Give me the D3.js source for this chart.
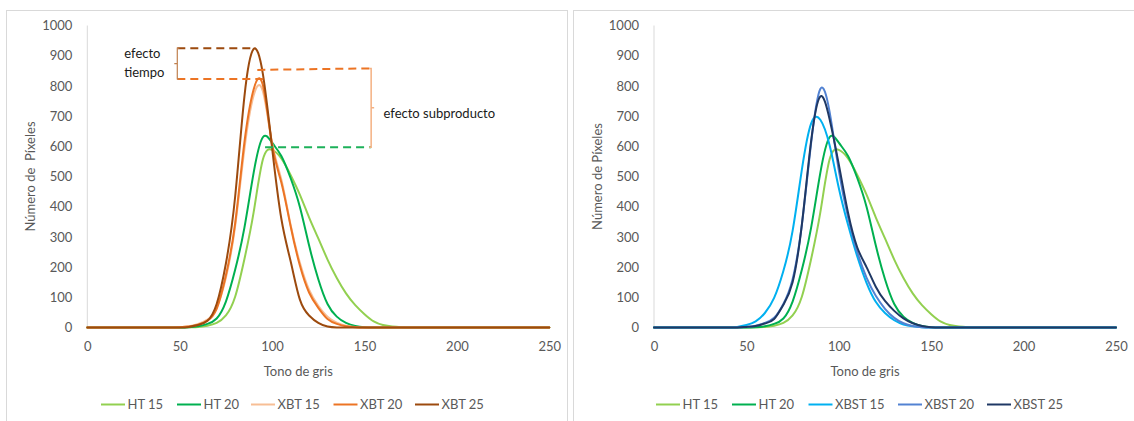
<!DOCTYPE html>
<html>
<head>
<meta charset="utf-8">
<script src="https://cdn.jsdelivr.net/npm/d3@7"></script>
<style>
  html, body { margin: 0; padding: 0; background: #fff; }
  svg { display: block; font-family: Lato, "Open Sans", sans-serif; }
</style>
</head>
<body>
<svg id="chart" width="1134" height="421"></svg>
<script>
// Gray-tone histograms (pixel counts per gray level)
const tones = d3.range(0, 251, 5);

const ht15   = [0,0,0,0,0,0,0,0,0,0, 0,1,2,6,15,40,102,226,381,556,588,560,505,440,365,295,225,164,113,74,44,20,8,3,1, 0,0,0,0,0,0,0,0,0,0,0,0,0,0,0,0];
const ht20   = [0,0,0,0,0,0,0,0,0,0, 0,1,4,12,30,86,191,330,512,630,612,568,495,400,272,160,78,36,15,5,1,0,0,0,0, 0,0,0,0,0,0,0,0,0,0,0,0,0,0,0,0];
const xbt15  = [0,0,0,0,0,0,0,0,0,0, 1,4,12,26,66,165,335,590,768,782,610,490,340,215,125,72,36,16,6,2,0,0,0,0,0, 0,0,0,0,0,0,0,0,0,0,0,0,0,0,0,0];
const xbt20  = [0,0,0,0,0,0,0,0,0,0, 1,3,9,23,62,173,345,612,788,803,605,480,336,206,116,65,28,12,4,1,0,0,0,0,0, 0,0,0,0,0,0,0,0,0,0,0,0,0,0,0,0];
const xbt25  = [0,0,0,0,0,0,0,0,0,0, 0,2,8,22,78,212,433,764,922,840,595,360,220,93,40,15,3,0,0,0,0,0,0,0,0, 0,0,0,0,0,0,0,0,0,0,0,0,0,0,0,0];
const xbst15 = [0,0,0,0,0,0,0,0,0,2, 8,20,48,98,187,320,522,675,688,604,462,340,235,148,85,48,24,10,4,1,0,0,0,0,0, 0,0,0,0,0,0,0,0,0,0,0,0,0,0,0,0];
const xbst20 = [0,0,0,0,0,0,0,0,0,0, 2,6,15,32,78,160,340,610,790,715,520,365,250,165,105,62,32,14,5,1,0,0,0,0,0, 0,0,0,0,0,0,0,0,0,0,0,0,0,0,0,0];
const xbst25 = [0,0,0,0,0,0,0,0,0,0, 2,5,13,28,75,150,340,616,765,690,540,380,265,200,135,88,55,30,14,5,1,0,0,0,0, 0,0,0,0,0,0,0,0,0,0,0,0,0,0,0,0];

const xTicks = [0, 50, 100, 150, 200, 250];
const yTicks = d3.range(0, 1001, 100);

const leftSeries = [
  { name: "HT 15",  values: ht15,  color: "#92D050" },
  { name: "HT 20",  values: ht20,  color: "#00B050" },
  { name: "XBT 15", values: xbt15, color: "#F7BE95" },
  { name: "XBT 20", values: xbt20, color: "#EC7424" },
  { name: "XBT 25", values: xbt25, color: "#9C4A0E" }
];
const rightSeries = [
  { name: "HT 15",   values: ht15,   color: "#92D050" },
  { name: "HT 20",   values: ht20,   color: "#00B050" },
  { name: "XBST 15", values: xbst15, color: "#00B0F0" },
  { name: "XBST 20", values: xbst20, color: "#5282D2" },
  { name: "XBST 25", values: xbst25, color: "#1F3864" }
];

// Annotation levels (tone, pixel count)
const timeBracket = { tone: 48.7, top: 925, bottom: 823, topEnd: 91, bottomEnd: 96.5 };
const subBracket  = { tone: 153.6, top: 858, topStart: 92, topStartVal: 853, bottom: 597, bottomStart: 96.2 };

const svg = d3.select("#chart");
const textGray = "#595959";

function panel(cfg) {
  const g = svg.append("g");
  // chart frame
  g.append("rect")
    .attr("x", cfg.frame[0]).attr("y", cfg.frame[1])
    .attr("width", cfg.frame[2]).attr("height", cfg.frame[3])
    .attr("fill", "none").attr("stroke", "#D9D9D9").attr("stroke-width", 1);

  const x = d3.scaleLinear().domain([0, 250]).range([cfg.x0, cfg.x0 + 462]);
  const y = d3.scaleLinear().domain([0, 1000]).range([327.5, 25.5]);

  // axes lines
  g.append("line").attr("x1", x(0)).attr("x2", x(0)).attr("y1", y(1000)).attr("y2", y(0))
    .attr("stroke", "#D9D9D9").attr("stroke-width", 1);
  g.append("line").attr("x1", x(0)).attr("x2", x(250)).attr("y1", y(0)).attr("y2", y(0))
    .attr("stroke", "#D9D9D9").attr("stroke-width", 1);

  const yAxis = d3.axisLeft(y).tickValues(yTicks).tickFormat(d3.format("d")).tickSize(0).tickPadding(15);
  const ya = g.append("g").attr("transform", `translate(${x(0)},0)`).call(yAxis);
  ya.select(".domain").remove();
  ya.selectAll("text").attr("fill", textGray).style("font-size", "13px").style("font-family", "Lato, sans-serif");

  const xAxis = d3.axisBottom(x).tickValues(xTicks).tickFormat(d3.format("d")).tickSize(0).tickPadding(14);
  const xa = g.append("g").attr("transform", `translate(0,${y(0)})`).call(xAxis);
  xa.select(".domain").remove();
  xa.selectAll("text").attr("fill", textGray).style("font-size", "13px").style("font-family", "Lato, sans-serif");

  // axis titles
  g.append("text").attr("x", x(0) + 211).attr("y", 376)
    .attr("text-anchor", "middle").attr("fill", textGray).style("font-size", "13px")
    .text("Tono de gris");
  g.append("text")
    .attr("transform", `translate(${x(0) - 52},${(y(0) + y(1000)) / 2}) rotate(-90)`)
    .attr("text-anchor", "middle").attr("fill", textGray).style("font-size", "13px")
    .attr("xml:space", "preserve")
    .text(cfg.yTitle);

  const line = d3.line()
    .x((d, i) => x(tones[i]))
    .y(d => y(d))
    .curve(d3.curveNatural);

  cfg.series.forEach(s => {
    g.append("path").attr("d", line(s.values))
      .attr("fill", "none").attr("stroke", s.color)
      .attr("stroke-width", 2).attr("stroke-linejoin", "round").attr("stroke-linecap", "round");
  });

  // legend
  const lg = g.append("g");
  cfg.series.forEach((s, i) => {
    const lx = cfg.legendX[i];
    lg.append("line").attr("x1", lx).attr("x2", lx + 24).attr("y1", 404.5).attr("y2", 404.5)
      .attr("stroke", s.color).attr("stroke-width", 2);
    lg.append("text").attr("x", lx + 26.5).attr("y", 409)
      .attr("fill", textGray).style("font-size", "13px").text(s.name);
  });

  return { g, x, y };
}

const L = panel({
  frame: [6.5, 10.5, 561, 420],
  x0: 87.3,
  series: leftSeries,
  yTitle: "Número de  Píxeles",
  legendX: [101, 177, 251, 333.5, 415]
});
panel({
  frame: [573.5, 10.5, 570, 420],
  x0: 654,
  series: rightSeries,
  yTitle: "Número de Píxeles",
  legendX: [656, 732, 808.5, 898, 987]
});

// "efecto tiempo" bracket
const ax = L.x, ay = L.y, ag = L.g;
ag.append("line").attr("x1", ax(timeBracket.tone)).attr("x2", ax(timeBracket.topEnd))
  .attr("y1", ay(timeBracket.top)).attr("y2", ay(timeBracket.top))
  .attr("stroke", "#9C4A0E").attr("stroke-width", 2).attr("stroke-dasharray", "8,5");
ag.append("line").attr("x1", ax(timeBracket.tone)).attr("x2", ax(timeBracket.bottomEnd))
  .attr("y1", ay(timeBracket.bottom)).attr("y2", ay(timeBracket.bottom))
  .attr("stroke", "#EC7424").attr("stroke-width", 2).attr("stroke-dasharray", "8,5");
ag.append("path")
  .attr("d", `M${ax(timeBracket.tone) + 2},${ay(timeBracket.top)} H${ax(timeBracket.tone)} V${ay(timeBracket.bottom)} H${ax(timeBracket.tone) + 2}
              M${ax(timeBracket.tone)},${(ay(timeBracket.top) + ay(timeBracket.bottom)) / 2} h-3`)
  .attr("fill", "none").attr("stroke", "#C0804F").attr("stroke-width", 1.2);
ag.append("text").attr("x", ax(20)).attr("y", ay(892)).attr("fill", "#1a1a1a")
  .style("font-size", "13px").text("efecto");
ag.append("text").attr("x", ax(20)).attr("y", ay(829)).attr("fill", "#1a1a1a")
  .style("font-size", "13px").text("tiempo");

// "efecto subproducto" bracket
ag.append("line").attr("x1", ax(subBracket.topStart)).attr("x2", ax(subBracket.tone))
  .attr("y1", ay(subBracket.topStartVal)).attr("y2", ay(subBracket.top))
  .attr("stroke", "#EC7424").attr("stroke-width", 2).attr("stroke-dasharray", "8,5");
ag.append("line").attr("x1", ax(subBracket.bottomStart)).attr("x2", ax(subBracket.tone))
  .attr("y1", ay(subBracket.bottom)).attr("y2", ay(subBracket.bottom))
  .attr("stroke", "#1DB15A").attr("stroke-width", 2).attr("stroke-dasharray", "8,5");
ag.append("path")
  .attr("d", `M${ax(subBracket.tone) - 2},${ay(subBracket.top)} H${ax(subBracket.tone)} V${ay(subBracket.bottom)} H${ax(subBracket.tone) - 2}
              M${ax(subBracket.tone)},${(ay(subBracket.top) + ay(subBracket.bottom)) / 2} h3`)
  .attr("fill", "none").attr("stroke", "#F4B183").attr("stroke-width", 1.5);
ag.append("text").attr("x", ax(160.3)).attr("y", ay(695)).attr("fill", "#1a1a1a")
  .style("font-size", "13px").text("efecto subproducto");
</script>
</body>
</html>
